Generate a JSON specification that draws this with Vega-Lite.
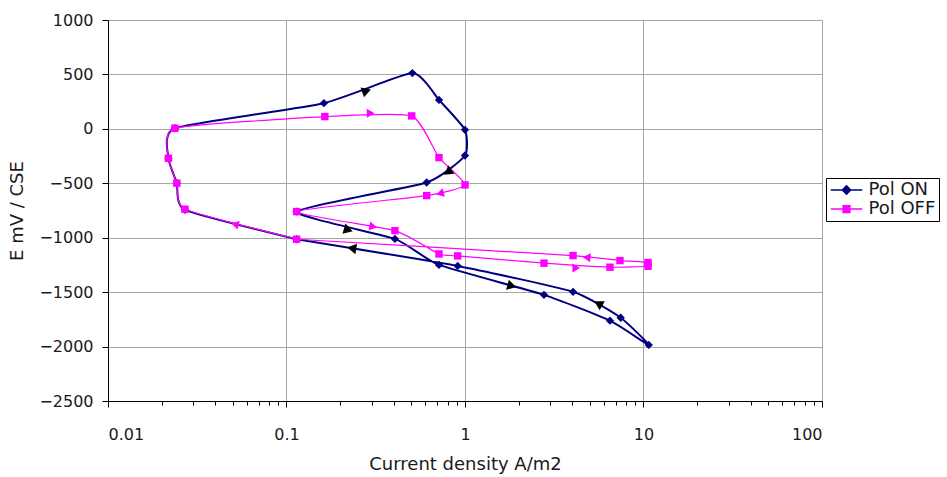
{
  "$schema": "https://vega.github.io/schema/vega-lite/v6.json",
  "width": 714,
  "height": 381,
  "autosize": {"type": "none"},
  "padding": {"left": 108, "top": 20, "right": 125, "bottom": 76},
  "background": "white",
  "config": {
    "font": "DejaVu Sans",
    "view": {"stroke": null},
    "axis": {
      "domainColor": "#000000",
      "tickColor": "#000000",
      "labelColor": "#1a1a1a",
      "titleColor": "#1a1a1a",
      "labelFont": "DejaVu Sans",
      "titleFont": "DejaVu Sans",
      "labelFontSize": 16,
      "titleFontSize": 18,
      "titleFontWeight": "normal",
      "gridColor": "#a6a6a6",
      "gridWidth": 1
    }
  },
  "datasets": {
    "curves": [
      {"series": "Pol ON", "step": 0, "current": 0.114, "potential": -1014},
      {"series": "Pol ON", "step": 1, "current": 0.027, "potential": -744},
      {"series": "Pol ON", "step": 2, "current": 0.0243, "potential": -499},
      {"series": "Pol ON", "step": 3, "current": 0.0218, "potential": -270},
      {"series": "Pol ON", "step": 4, "current": 0.0237, "potential": 6},
      {"series": "Pol ON", "step": 5, "current": 0.162, "potential": 236},
      {"series": "Pol ON", "step": 6, "current": 0.507, "potential": 512},
      {"series": "Pol ON", "step": 7, "current": 0.715, "potential": 266},
      {"series": "Pol ON", "step": 8, "current": 1.0, "potential": -9},
      {"series": "Pol ON", "step": 9, "current": 1.0, "potential": -245},
      {"series": "Pol ON", "step": 10, "current": 0.61, "potential": -493},
      {"series": "Pol ON", "step": 11, "current": 0.114, "potential": -760},
      {"series": "Pol ON", "step": 12, "current": 0.405, "potential": -1011},
      {"series": "Pol ON", "step": 13, "current": 0.715, "potential": -1250},
      {"series": "Pol ON", "step": 14, "current": 2.77, "potential": -1525},
      {"series": "Pol ON", "step": 15, "current": 6.49, "potential": -1762},
      {"series": "Pol ON", "step": 16, "current": 10.7, "potential": -1985},
      {"series": "Pol ON", "step": 17, "current": 7.45, "potential": -1735},
      {"series": "Pol ON", "step": 18, "current": 4.03, "potential": -1497},
      {"series": "Pol ON", "step": 19, "current": 0.91, "potential": -1259},
      {"series": "Pol ON", "step": 20, "current": 0.114, "potential": -1014},
      {"series": "Pol OFF", "step": 0, "current": 0.114, "potential": -1014},
      {"series": "Pol OFF", "step": 1, "current": 0.027, "potential": -738},
      {"series": "Pol OFF", "step": 2, "current": 0.0243, "potential": -499},
      {"series": "Pol OFF", "step": 3, "current": 0.0218, "potential": -270},
      {"series": "Pol OFF", "step": 4, "current": 0.0237, "potential": 6},
      {"series": "Pol OFF", "step": 5, "current": 0.164, "potential": 113},
      {"series": "Pol OFF", "step": 6, "current": 0.503, "potential": 119},
      {"series": "Pol OFF", "step": 7, "current": 0.715, "potential": -264},
      {"series": "Pol OFF", "step": 8, "current": 1.0, "potential": -515},
      {"series": "Pol OFF", "step": 9, "current": 0.61, "potential": -613},
      {"series": "Pol OFF", "step": 10, "current": 0.114, "potential": -760},
      {"series": "Pol OFF", "step": 11, "current": 0.405, "potential": -935},
      {"series": "Pol OFF", "step": 12, "current": 0.715, "potential": -1149},
      {"series": "Pol OFF", "step": 13, "current": 0.91, "potential": -1167},
      {"series": "Pol OFF", "step": 14, "current": 2.77, "potential": -1234},
      {"series": "Pol OFF", "step": 15, "current": 6.49, "potential": -1271},
      {"series": "Pol OFF", "step": 16, "current": 10.6, "potential": -1262},
      {"series": "Pol OFF", "step": 17, "current": 10.6, "potential": -1228},
      {"series": "Pol OFF", "step": 18, "current": 7.38, "potential": -1210},
      {"series": "Pol OFF", "step": 19, "current": 4.03, "potential": -1164},
      {"series": "Pol OFF", "step": 20, "current": 0.114, "potential": -1014}
    ],
    "arrows": [
      {"series": "Pol ON", "current": 0.281, "potential": 349, "heading": 341},
      {"series": "Pol ON", "current": 0.8, "potential": -398, "heading": 145},
      {"series": "Pol ON", "current": 0.222, "potential": -928, "heading": 16},
      {"series": "Pol ON", "current": 0.232, "potential": -1097, "heading": 189},
      {"series": "Pol ON", "current": 1.83, "potential": -1443, "heading": 16},
      {"series": "Pol ON", "current": 5.58, "potential": -1605, "heading": 209},
      {"series": "Pol OFF", "current": 0.0514, "potential": -876, "heading": 195},
      {"series": "Pol OFF", "current": 0.296, "potential": 144, "heading": 0},
      {"series": "Pol OFF", "current": 0.724, "potential": -594, "heading": 165},
      {"series": "Pol OFF", "current": 0.306, "potential": -898, "heading": 12},
      {"series": "Pol OFF", "current": 4.2, "potential": -1278, "heading": 0},
      {"series": "Pol OFF", "current": 4.8, "potential": -1181, "heading": 186}
    ]
  },
  "data": {"name": "curves"},
  "encoding": {
    "x": {
      "field": "current",
      "type": "quantitative",
      "scale": {"type": "log", "domain": [0.01, 100]},
      "axis": {
        "title": "Current density A/m2",
        "values": [0.01, 0.02, 0.03, 0.04, 0.05, 0.06, 0.07, 0.08, 0.09, 0.1, 0.2, 0.3, 0.4, 0.5, 0.6, 0.7, 0.8, 0.9, 1, 2, 3, 4, 5, 6, 7, 8, 9, 10, 20, 30, 40, 50, 60, 70, 80, 90, 100],
        "format": "~g",
        "labelExpr": "abs(log(datum.value)/LN10 - round(log(datum.value)/LN10)) < 0.001 ? datum.label : ''",
        "grid": true,
        "gridColor": {"condition": {"test": "abs(log(datum.value)/LN10 - round(log(datum.value)/LN10)) < 0.001", "value": "#a6a6a6"}, "value": "rgba(0,0,0,0)"},
        "tickSize": {"condition": {"test": "abs(log(datum.value)/LN10 - round(log(datum.value)/LN10)) < 0.001", "value": 6}, "value": 4},
        "labelPadding": 19,
        "titlePadding": 13
      }
    },
    "y": {
      "field": "potential",
      "type": "quantitative",
      "scale": {"domain": [-2500, 1000], "zero": false, "nice": false},
      "axis": {
        "title": "E mV / CSE",
        "values": [-2500, -2000, -1500, -1000, -500, 0, 500, 1000],
        "format": "d",
        "grid": true,
        "tickSize": 6,
        "labelPadding": 9,
        "titlePadding": 12
      }
    }
  },
  "layer": [
    {
      "transform": [{"filter": "datum.series === 'Pol ON'"}],
      "mark": {"type": "line", "interpolate": "cardinal", "tension": 0.5, "strokeWidth": 2},
      "encoding": {
        "order": {"field": "step", "type": "quantitative"},
        "color": {
          "field": "series",
          "type": "nominal",
          "scale": {"domain": ["Pol ON", "Pol OFF"], "range": ["#000080", "#ff00ff"]},
          "legend": {
            "title": null,
            "orient": "none",
            "legendX": 718,
            "legendY": 158,
            "strokeColor": "#000000",
            "fillColor": "white",
            "padding": 3,
            "symbolSize": 225,
            "symbolOffset": 8.5,
            "labelOffset": 13,
            "rowPadding": 1,
            "labelFont": "DejaVu Sans",
            "labelFontSize": 18,
            "labelColor": "#1a1a1a",
            "encode": {
              "symbols": {
                "update": {
                  "shape": {"signal": "datum.value === 'Pol ON' ? 'M-2.1,0H2.1M0,-0.55L0.55,0L0,0.55L-0.55,0Z' : 'M-2.1,0H2.1M-0.45,-0.45H0.45V0.45H-0.45Z'"},
                  "fill": {"signal": "datum.value === 'Pol ON' ? '#000080' : '#ff00ff'"},
                  "stroke": {"signal": "datum.value === 'Pol ON' ? '#000080' : '#ff00ff'"},
                  "strokeWidth": {"value": 1.5},
                  "opacity": {"value": 1},
                  "fillOpacity": {"value": 1}
                }
              }
            }
          }
        }
      }
    },
    {
      "transform": [{"filter": "datum.series === 'Pol ON' && datum.step < 20"}],
      "mark": {"type": "point", "shape": "diamond", "filled": true, "size": 70, "opacity": 1},
      "encoding": {"color": {"field": "series", "type": "nominal"}}
    },
    {
      "transform": [{"filter": "datum.series === 'Pol OFF'"}],
      "mark": {"type": "line", "interpolate": "cardinal", "tension": 0.5, "strokeWidth": 1.2},
      "encoding": {
        "order": {"field": "step", "type": "quantitative"},
        "color": {"field": "series", "type": "nominal"}
      }
    },
    {
      "transform": [{"filter": "datum.series === 'Pol OFF' && datum.step < 20"}],
      "mark": {"type": "point", "shape": "square", "filled": true, "size": 55, "opacity": 1},
      "encoding": {"color": {"field": "series", "type": "nominal"}}
    },
    {
      "data": {"name": "arrows"},
      "transform": [{"filter": "datum.series === 'Pol ON'"}],
      "mark": {"type": "point", "shape": "triangle-right", "filled": true, "size": 110, "color": "#000000", "opacity": 1},
      "encoding": {"angle": {"field": "heading", "type": "quantitative", "scale": null}}
    },
    {
      "data": {"name": "arrows"},
      "transform": [{"filter": "datum.series === 'Pol OFF'"}],
      "mark": {"type": "point", "shape": "triangle-right", "filled": true, "size": 80, "color": "#ff00ff", "opacity": 1},
      "encoding": {"angle": {"field": "heading", "type": "quantitative", "scale": null}}
    }
  ]
}
